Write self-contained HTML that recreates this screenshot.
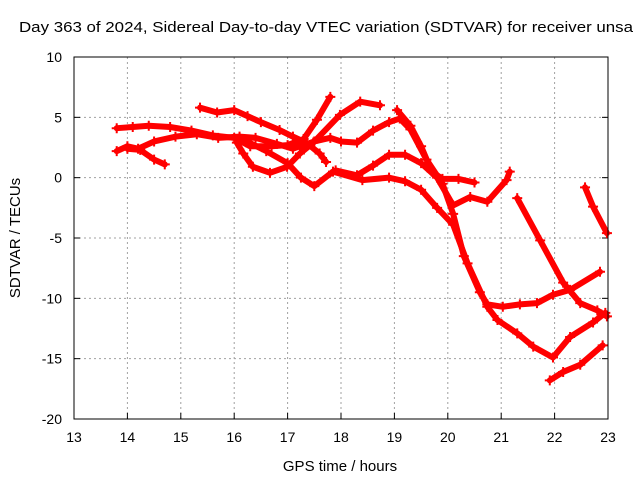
<!DOCTYPE html>
<html><head><meta charset="utf-8"><style>
body{margin:0;background:#fff}
svg{display:block;font-family:"Liberation Sans",sans-serif}
</style></head><body>
<svg id="chart" width="640" height="480" viewBox="0 0 640 480">
<rect width="640" height="480" fill="#fff"/>
<text x="19" y="32" font-size="15" textLength="614" lengthAdjust="spacingAndGlyphs" fill="#000">Day 363 of 2024, Sidereal Day-to-day VTEC variation (SDTVAR) for receiver unsa</text>
<text transform="translate(20,238) rotate(-90)" text-anchor="middle" font-size="15">SDTVAR / TECUs</text>
<text x="340" y="471" text-anchor="middle" font-size="15">GPS time / hours</text>
<g id="grid"></g>
<g id="ticks"></g>
<g id="series"></g>
<rect x="74" y="57" width="534" height="362" fill="none" stroke="#000" stroke-width="1"/>
</svg>
<script>
const xTicks=[13,14,15,16,17,18,19,20,21,22,23];
const yTicks=[10,5,0,-5,-10,-15,-20];
const s1=[[13.8,4.1],[14.1,4.2],[14.4,4.3],[14.8,4.2],[15.2,3.9],[15.6,3.5],[16.0,3.3],[16.3,2.6],[16.7,2.6],[17.0,2.7],[17.3,3.2],[17.55,4.8],[17.8,6.7]];
const s2=[[13.8,2.2],[14.0,2.6],[14.2,2.4],[14.5,3.0],[14.9,3.4],[15.3,3.6],[15.7,3.3],[16.1,3.4],[16.4,3.3],[16.8,2.8],[17.1,2.4],[17.5,3.0],[17.8,3.3],[18.0,3.0],[18.3,2.9],[18.6,3.9],[18.9,4.6],[19.1,4.9],[19.3,4.0],[19.6,1.5],[19.9,-0.5],[20.1,-3.0],[20.3,-6.5],[20.6,-9.5],[20.74,-10.5],[21.03,-10.7],[21.35,-10.5],[21.67,-10.4],[21.97,-9.7],[22.29,-9.3],[22.85,-7.8]];
const s3=[[15.36,5.8],[15.68,5.4],[16.0,5.6],[16.25,5.1],[16.5,4.6],[16.85,3.95],[17.1,3.4],[17.35,2.9],[17.6,2.0],[17.72,1.3]];
const s4=[[16.05,2.9],[16.17,2.0],[16.35,0.9],[16.67,0.4],[16.99,0.9],[17.23,2.0],[17.48,2.9],[17.98,5.2],[18.36,6.3],[18.73,6.0]];
const s5=[[16.1,3.3],[16.6,2.2],[17.0,1.2],[17.25,0.0],[17.5,-0.7],[17.85,0.5],[18.4,-0.2],[18.9,0.0],[19.2,-0.3],[19.5,-1.0],[19.8,-2.5],[20.1,-3.9],[20.37,-7.1],[20.74,-10.7],[20.93,-11.8],[21.3,-12.9],[21.6,-14.0],[21.97,-14.9],[22.29,-13.2],[22.72,-12.0],[22.95,-11.2]];
const s6=[[17.9,0.6],[18.3,0.2],[18.6,1.0],[18.9,1.9],[19.2,1.9],[19.5,1.2],[19.8,0.0],[20.1,-2.3],[20.42,-1.6],[20.74,-2.0],[21.1,-0.2],[21.16,0.5]];
const s7=[[19.05,5.6],[19.3,4.3],[19.5,2.6],[19.7,0.5],[19.9,-0.1],[20.2,-0.1],[20.5,-0.4]];
const s8=[[21.3,-1.7],[21.73,-5.2],[22.16,-8.7],[22.48,-10.4],[22.8,-11.0],[22.98,-11.5]];
const s9=[[22.57,-0.8],[22.72,-2.4],[22.98,-4.6]];
const s10=[[21.91,-16.8],[22.16,-16.1],[22.48,-15.5],[22.9,-13.9]];
const s11=[[14.0,2.4],[14.24,2.3],[14.5,1.5],[14.7,1.1]];
const allSeries=[s1,s2,s3,s4,s5,s6,s7,s8,s9,s10,s11];
const NS="http://www.w3.org/2000/svg";
const X0=74,X1=608,Y0=57,Y1=419;
const xs=h=>X0+(h-13)/(23-13)*(X1-X0);
const ys=v=>Y0+(10-v)/(10+20)*(Y1-Y0);
const grid=document.getElementById('grid'),ticks=document.getElementById('ticks'),ser=document.getElementById('series');
function mk(tag,attrs,parent){const e=document.createElementNS(NS,tag);for(const k in attrs)e.setAttribute(k,attrs[k]);parent.appendChild(e);return e;}
xTicks.forEach(t=>{
  const x=xs(t);
  if(t>13&&t<23){const g=mk('line',{x1:x,x2:x,y1:Y0,y2:Y1,stroke:'#a0a0a0','stroke-dasharray':'2,3'},grid);
  
  }
  const m1=mk('line',{x1:x,x2:x,y1:Y1,y2:Y1-6,stroke:'#000'},ticks);
  
  
  const tx=mk('text',{x:x,y:442,'text-anchor':'middle','font-size':14},ticks);tx.textContent=t;
  
  
});
yTicks.forEach(t=>{
  const y=ys(t);
  if(t<10&&t>-20){const g=mk('line',{x1:X0,x2:X1,y1:y,y2:y,stroke:'#a0a0a0','stroke-dasharray':'2,3'},grid);
  
  }
  const m1=mk('line',{x1:X0,x2:X0+6,y1:y,y2:y,stroke:'#000'},ticks);
  
  
  const m2=mk('line',{x1:X1,x2:X1-6,y1:y,y2:y,stroke:'#000'},ticks);
  
  
  const tx=mk('text',{x:62,y:y+5,'text-anchor':'end','font-size':14},ticks);tx.textContent=t;
  
  
});
allSeries.forEach((s,i)=>{
  const pl=mk('polyline',{points:s.map(p=>xs(p[0])+','+ys(p[1])).join(' '),fill:'none',stroke:'#ff0000','stroke-width':6,'stroke-linejoin':'round','stroke-linecap':'round'},ser);
  
  
  s.forEach(p=>{
    const x=xs(p[0]),y=ys(p[1]);
    const mp=mk('path',{d:`M${x-5},${y}H${x+5}M${x},${y-5}V${y+5}`,stroke:'#ff0000','stroke-width':2},ser);
    
    
  });
});
</script>
</body></html>
